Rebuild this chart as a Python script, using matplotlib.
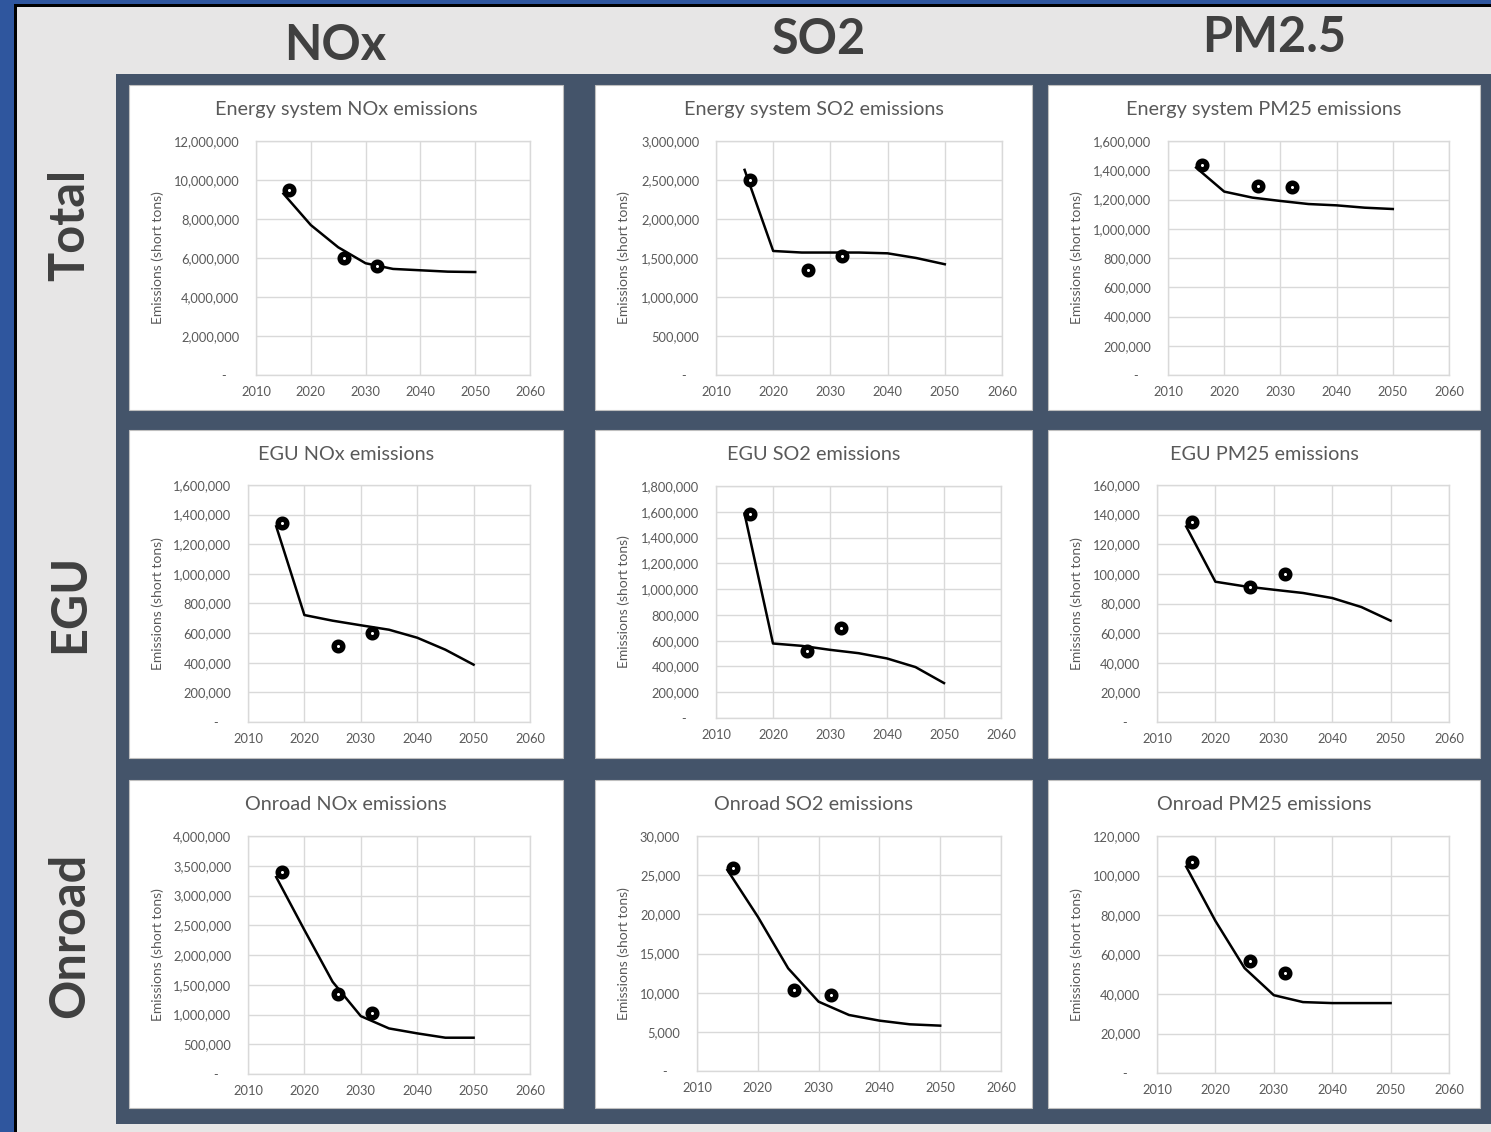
import matplotlib.pyplot as plt
from matplotlib.patches import Rectangle
from matplotlib.ticker import FuncFormatter, MultipleLocator

W, H = 1491, 1132

line_years = [2015, 2020, 2025, 2030, 2035, 2040, 2045, 2050]
point_years = [2016, 2026, 2032]

# Total (energy system)
total_nox_line = [9300000, 7690000, 6550000, 5730000, 5440000, 5370000, 5300000, 5280000]
total_nox_pts = [9470000, 6020000, 5590000]
total_so2_line = [2630000, 1590000, 1570000, 1570000, 1570000, 1560000, 1500000, 1420000]
total_so2_pts = [2500000, 1340000, 1520000]
total_pm_line = [1418000, 1254000, 1213000, 1190000, 1169000, 1160000, 1144000, 1135000]
total_pm_pts = [1436000, 1295000, 1288000]

# EGU
egu_nox_line = [1321000, 722000, 684000, 653000, 623000, 569000, 488000, 387000]
egu_nox_pts = [1343000, 515000, 603000]
egu_so2_line = [1586000, 578000, 560000, 529000, 503000, 462000, 395000, 271000]
egu_so2_pts = [1586000, 516000, 701000]
egu_pm_line = [132000, 94700, 91600, 89300, 87100, 83700, 77600, 68400]
egu_pm_pts = [135000, 91100, 100100]

# Onroad
onroad_nox_line = [3310000, 2420000, 1550000, 973000, 766000, 683000, 610000, 610000]
onroad_nox_pts = [3400000, 1340000, 1020000]
onroad_so2_line = [25660, 19700, 13100, 8850, 7150, 6430, 5960, 5790]
onroad_so2_pts = [25900, 10400, 9700]
onroad_pm_line = [104500, 77000, 53100, 39400, 35900, 35400, 35400, 35400]
onroad_pm_pts = [106700, 56800, 50600]

titles = [
    'Energy system NOx emissions', 'Energy system SO2 emissions', 'Energy system PM25 emissions',
    'EGU NOx emissions', 'EGU SO2 emissions', 'EGU PM25 emissions',
    'Onroad NOx emissions', 'Onroad SO2 emissions', 'Onroad PM25 emissions',
]
col_headers = ['NOx', 'SO2', 'PM2.5']
row_headers = ['Total', 'EGU', 'Onroad']
y_label = 'Emissions (short tons)'

series = [
    (total_nox_line, total_nox_pts, 12000000, 2000000),
    (total_so2_line, total_so2_pts, 3000000, 500000),
    (total_pm_line, total_pm_pts, 1600000, 200000),
    (egu_nox_line, egu_nox_pts, 1600000, 200000),
    (egu_so2_line, egu_so2_pts, 1800000, 200000),
    (egu_pm_line, egu_pm_pts, 160000, 20000),
    (onroad_nox_line, onroad_nox_pts, 4000000, 500000),
    (onroad_so2_line, onroad_so2_pts, 30000, 5000),
    (onroad_pm_line, onroad_pm_pts, 120000, 20000),
]

# layout in pixels (left, top, right, bottom)
panel_rows = [(85, 410), (430, 758), (780, 1108)]
panel_cols = [(129, 563), (595, 1032), (1048, 1480)]
axes_px = [
    (256, 141, 530, 375), (716, 141, 1002, 375), (1168, 141, 1449, 375),
    (248, 485, 530, 722), (716, 486, 1001, 718), (1157, 485, 1449, 722),
    (248, 836, 530, 1074), (697, 836, 1001, 1071), (1157, 836, 1449, 1073),
]

FONT = 'Lato'
BG = '#E7E6E6'
NAVY = '#44546A'
TEXT = '#595959'
GRID = '#D9D9D9'


def fx(x):
    return x / W


def fy(y):
    return 1 - y / H


def fig_rect(l, t, r, b):
    return [fx(l), fy(b), (r - l) / W, (b - t) / H]


def add_box(fig, l, t, r, b, color, edge=None, z=0):
    fig.patches.append(Rectangle((fx(l), fy(b)), (r - l) / W, (b - t) / H,
                                 transform=fig.transFigure, facecolor=color,
                                 edgecolor=edge if edge else color,
                                 linewidth=0.8 if edge else 0, zorder=z))


def y_fmt(v, pos):
    if v == 0:
        return '-    '
    return f'{v:,.0f}'


def draw_panel(fig, idx):
    line, pts, ymax, ystep = series[idx]
    l, t, r, b = axes_px[idx]
    ax = fig.add_axes(fig_rect(l, t, r, b))
    ax.set_zorder(5)
    ax.set_facecolor('white')
    ax.plot(line_years, line, color='black', linewidth=1.8, zorder=3)
    ax.plot(point_years, pts, linestyle='none', marker='o', markersize=6.2,
            markerfacecolor='white', markeredgecolor='black', markeredgewidth=3.9, zorder=4)
    ax.set_xlim(2010, 2060)
    ax.set_ylim(0, ymax)
    ax.xaxis.set_major_locator(MultipleLocator(10))
    ax.yaxis.set_major_locator(MultipleLocator(ystep))
    ax.yaxis.set_major_formatter(FuncFormatter(y_fmt))
    ax.grid(True, color=GRID, linewidth=1)
    ax.set_axisbelow(True)
    for s in ax.spines.values():
        s.set_color(GRID)
        s.set_linewidth(1)
    ax.tick_params(length=0, labelsize=9.3, colors=TEXT)
    ax.tick_params(axis='y', pad=12)
    ax.tick_params(axis='x', pad=8)
    for lab in ax.get_xticklabels() + ax.get_yticklabels():
        lab.set_fontfamily(FONT)

    row, col = divmod(idx, 3)
    pl, pr = panel_cols[col]
    pt, pb = panel_rows[row]
    fig.text(fx((pl + pr) / 2), fy(pt + 24), titles[idx], ha='center', va='center',
             fontsize=14.3, color=TEXT, family=FONT, zorder=6)
    fig.text(fx(pl + 29), fy((t + b) / 2), y_label, rotation=90, ha='center', va='center',
             fontsize=10, color=TEXT, family=FONT, zorder=6)


if __name__ == '__main__':
    fig = plt.figure(figsize=(W / 100, H / 100), dpi=100, facecolor=BG)

    # frame: blue edge with black rule, navy backing panel
    add_box(fig, 0, 0, 14, H, '#2F569E')
    add_box(fig, 14, 7, 17, H, 'black')
    add_box(fig, 0, 0, W, 4, '#2F569E')
    add_box(fig, 14, 4, W, 7, 'black')
    add_box(fig, 116, 74, W, 1124, NAVY)
    for pt, pb in panel_rows:
        for pl, pr in panel_cols:
            add_box(fig, pl, pt, pr, pb, 'white', edge='#BFBFBF', z=1)

    header_y = [45, 40, 37]
    header_x = [335, 819, 1274]
    for name, x, y in zip(col_headers, header_x, header_y):
        fig.text(fx(x), fy(y), name, ha='center', va='center', fontsize=35,
                 fontweight='bold', color='#404040', family=FONT)
    row_y = [225, 603, 935]
    for name, y in zip(row_headers, row_y):
        fig.text(fx(70), fy(y), name, ha='center', va='center', fontsize=35, rotation=90,
                 fontweight='bold', color='#404040', family=FONT)

    for i in range(9):
        draw_panel(fig, i)

    fig.savefig('out.png', dpi=100, facecolor=BG)
